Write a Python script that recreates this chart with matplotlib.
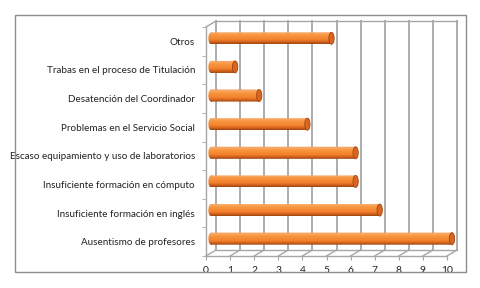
import numpy as np
import matplotlib
matplotlib.use("Agg")
import matplotlib.pyplot as plt
from matplotlib.patches import Rectangle, Ellipse, PathPatch
from matplotlib.path import Path

categories = [
    "Ausentismo de profesores",
    "Insuficiente formación en inglés",
    "Insuficiente formación en cómputo",
    "Escaso equipamiento y uso de laboratorios",
    "Problemas en el Servicio Social",
    "Desatención del Coordinador",
    "Trabas en el proceso de Titulación",
    "Otros",
]
values = [10, 7, 6, 6, 4, 2, 1, 5]
xticks = list(range(0, 11))

plt.rcParams["font.family"] = ["Lato", "DejaVu Sans"]

fig = plt.figure(figsize=(4.8, 2.88), dpi=100)
fig.patch.set_facecolor("white")

# outer chart border
fig.patches.append(Rectangle((15 / 480, 1 - 272 / 288), 451 / 480, 257 / 288,
                             transform=fig.transFigure, fill=False,
                             edgecolor="#8c8c8c", lw=1.0))

xmax = 10.6
ax = fig.add_axes([206 / 480, 1 - 256 / 288, 24.1 * xmax / 480, 229 / 288])
for s in ax.spines.values():
    s.set_visible(False)

dx, dy = 0.415, 0.21  # depth offset in data units
ytop = len(categories) - 0.5
grid_c = "#a6a6a6"

# back wall gridlines and top edge
for x in xticks:
    ax.plot([x + dx, x + dx], [-0.5 + dy, ytop + dy], color=grid_c, lw=1.3,
            clip_on=False, zorder=1)
    ax.plot([x, x + dx], [-0.5, -0.5 + dy], color=grid_c, lw=1.0,
            clip_on=False, zorder=1)
ax.plot([dx, 10 + dx], [ytop + dy, ytop + dy], color=grid_c, lw=1.0,
        clip_on=False, zorder=1)
ax.plot([dx, 10 + dx], [-0.5 + dy, -0.5 + dy], color=grid_c, lw=1.0,
        clip_on=False, zorder=1)
# left side wall edges
ax.plot([0, 0], [-0.5, ytop], color=grid_c, lw=1.0, clip_on=False, zorder=1)
ax.plot([0, dx], [ytop, ytop + dy], color=grid_c, lw=1.0, clip_on=False, zorder=1)
ax.plot([0, 10], [-0.5, -0.5], color=grid_c, lw=1.0, clip_on=False, zorder=1)

# cylinder bars
h = 0.42
cap = 0.22
grad = np.linspace(0, 1, 100).reshape(-1, 1)
cmap = matplotlib.colors.LinearSegmentedColormap.from_list(
    "cyl", [(0, "#9a440f"), (0.15, "#d0601b"), (0.35, "#f4822e"),
            (0.7, "#f8963f"), (0.88, "#fbab6a"), (1, "#f28a3c")])
for i, v in enumerate(values):
    yc = i + dy / 2
    x0, x1 = dx / 2, v + dx / 2
    verts = [(x0, yc - h / 2), (x1, yc - h / 2), (x1, yc + h / 2), (x0, yc + h / 2)]
    body = Ellipse((x0, yc), cap, h)
    clip_path = Path.make_compound_path(
        Path(verts + [verts[0]], closed=True),
        body.get_path().transformed(body.get_patch_transform()))
    im = ax.imshow(grad, cmap=cmap, aspect="auto", origin="lower",
                   extent=[x0 - cap / 2, x1, yc - h / 2, yc + h / 2], zorder=3)
    cp = PathPatch(clip_path, transform=ax.transData, fc="none", ec="none")
    ax.add_patch(cp)
    im.set_clip_path(cp)
    ax.add_patch(Ellipse((x1, yc), cap, h, fc="#d86622", ec="#a4460f",
                         lw=0.6, zorder=4))

ax.set_xlim(0, xmax)
ax.set_ylim(-0.5, len(categories) - 0.5)
ax.set_xticks(xticks)
ax.set_xticklabels([str(t) for t in xticks], fontsize=7.5, color="#222222")
ax.tick_params(axis="x", length=3, color=grid_c, pad=4)
ax.set_yticks(range(len(categories)))
ax.set_yticklabels(categories, fontsize=7.1, color="#222222")
ax.set_yticks(np.arange(-0.5, len(categories), 1), minor=True)
ax.tick_params(axis="y", which="major", length=0, pad=8)
ax.tick_params(axis="y", which="minor", length=3, color=grid_c)

fig.savefig("out.png", dpi=100)
